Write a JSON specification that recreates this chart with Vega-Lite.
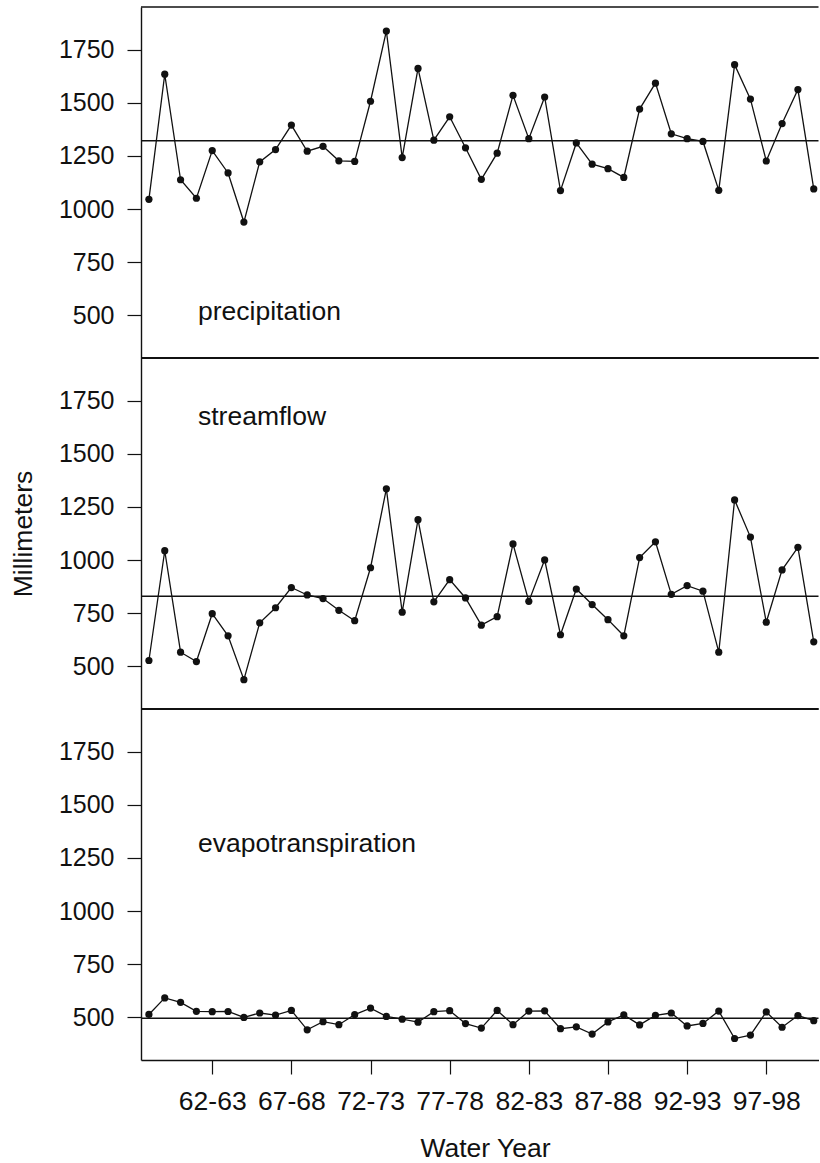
{
  "$schema": "https://vega.github.io/schema/vega-lite/v6.json",
  "background": "white",
  "padding": {"left": 10, "top": 6, "right": 0, "bottom": 0},
  "bounds": "flush",
  "spacing": 0,
  "config": {
    "font": "Liberation Sans",
    "view": {"stroke": null},
    "axis": {
      "grid": false,
      "domainColor": "#111111",
      "domainWidth": 1.4,
      "tickColor": "#111111",
      "tickWidth": 1.2,
      "tickSize": 14,
      "labelColor": "#111111",
      "titleColor": "#111111",
      "labelFont": "Liberation Sans",
      "titleFont": "Liberation Sans",
      "titleFontWeight": "normal"
    },
    "axisY": {"labelFontSize": 25, "labelPadding": 13, "titleFontSize": 26.5, "titlePadding": 21},
    "axisX": {"labelFontSize": 26.5, "labelPadding": 14, "titleFontSize": 26.5, "titlePadding": 21, "domainWidth": 1.6}
  },
  "datasets": {
    "wy": [
      {"water_year": "58-59", "start": 1958, "precipitation": 1046, "streamflow": 528, "evapotranspiration": 514},
      {"water_year": "59-60", "start": 1959, "precipitation": 1634, "streamflow": 1044, "evapotranspiration": 592},
      {"water_year": "60-61", "start": 1960, "precipitation": 1138, "streamflow": 567, "evapotranspiration": 571},
      {"water_year": "61-62", "start": 1961, "precipitation": 1051, "streamflow": 523, "evapotranspiration": 529},
      {"water_year": "62-63", "start": 1962, "precipitation": 1275, "streamflow": 748, "evapotranspiration": 527},
      {"water_year": "63-64", "start": 1963, "precipitation": 1170, "streamflow": 644, "evapotranspiration": 528},
      {"water_year": "64-65", "start": 1964, "precipitation": 939, "streamflow": 438, "evapotranspiration": 500},
      {"water_year": "65-66", "start": 1965, "precipitation": 1222, "streamflow": 705, "evapotranspiration": 521},
      {"water_year": "66-67", "start": 1966, "precipitation": 1280, "streamflow": 776, "evapotranspiration": 511},
      {"water_year": "67-68", "start": 1967, "precipitation": 1395, "streamflow": 871, "evapotranspiration": 533},
      {"water_year": "68-69", "start": 1968, "precipitation": 1272, "streamflow": 836, "evapotranspiration": 442},
      {"water_year": "69-70", "start": 1969, "precipitation": 1295, "streamflow": 819, "evapotranspiration": 480},
      {"water_year": "70-71", "start": 1970, "precipitation": 1227, "streamflow": 764, "evapotranspiration": 466},
      {"water_year": "71-72", "start": 1971, "precipitation": 1224, "streamflow": 715, "evapotranspiration": 513},
      {"water_year": "72-73", "start": 1972, "precipitation": 1507, "streamflow": 964, "evapotranspiration": 544},
      {"water_year": "73-74", "start": 1973, "precipitation": 1837, "streamflow": 1335, "evapotranspiration": 505},
      {"water_year": "74-75", "start": 1974, "precipitation": 1242, "streamflow": 755, "evapotranspiration": 492},
      {"water_year": "75-76", "start": 1975, "precipitation": 1661, "streamflow": 1190, "evapotranspiration": 478},
      {"water_year": "76-77", "start": 1976, "precipitation": 1324, "streamflow": 804, "evapotranspiration": 527},
      {"water_year": "77-78", "start": 1977, "precipitation": 1434, "streamflow": 908, "evapotranspiration": 532},
      {"water_year": "78-79", "start": 1978, "precipitation": 1288, "streamflow": 822, "evapotranspiration": 471},
      {"water_year": "79-80", "start": 1979, "precipitation": 1140, "streamflow": 694, "evapotranspiration": 450},
      {"water_year": "80-81", "start": 1980, "precipitation": 1263, "streamflow": 734, "evapotranspiration": 533},
      {"water_year": "81-82", "start": 1981, "precipitation": 1535, "streamflow": 1076, "evapotranspiration": 466},
      {"water_year": "82-83", "start": 1982, "precipitation": 1331, "streamflow": 806, "evapotranspiration": 530},
      {"water_year": "83-84", "start": 1983, "precipitation": 1527, "streamflow": 1001, "evapotranspiration": 531},
      {"water_year": "84-85", "start": 1984, "precipitation": 1087, "streamflow": 649, "evapotranspiration": 447},
      {"water_year": "85-86", "start": 1985, "precipitation": 1311, "streamflow": 864, "evapotranspiration": 456},
      {"water_year": "86-87", "start": 1986, "precipitation": 1211, "streamflow": 791, "evapotranspiration": 422},
      {"water_year": "87-88", "start": 1987, "precipitation": 1190, "streamflow": 720, "evapotranspiration": 479},
      {"water_year": "88-89", "start": 1988, "precipitation": 1149, "streamflow": 644, "evapotranspiration": 512},
      {"water_year": "89-90", "start": 1989, "precipitation": 1470, "streamflow": 1012, "evapotranspiration": 465},
      {"water_year": "90-91", "start": 1990, "precipitation": 1592, "streamflow": 1086, "evapotranspiration": 510},
      {"water_year": "91-92", "start": 1991, "precipitation": 1354, "streamflow": 839, "evapotranspiration": 521},
      {"water_year": "92-93", "start": 1992, "precipitation": 1331, "streamflow": 880, "evapotranspiration": 460},
      {"water_year": "93-94", "start": 1993, "precipitation": 1318, "streamflow": 854, "evapotranspiration": 472},
      {"water_year": "94-95", "start": 1994, "precipitation": 1088, "streamflow": 567, "evapotranspiration": 530},
      {"water_year": "95-96", "start": 1995, "precipitation": 1679, "streamflow": 1283, "evapotranspiration": 401},
      {"water_year": "96-97", "start": 1996, "precipitation": 1517, "streamflow": 1108, "evapotranspiration": 417},
      {"water_year": "97-98", "start": 1997, "precipitation": 1226, "streamflow": 708, "evapotranspiration": 526},
      {"water_year": "98-99", "start": 1998, "precipitation": 1402, "streamflow": 954, "evapotranspiration": 454},
      {"water_year": "99-00", "start": 1999, "precipitation": 1562, "streamflow": 1060, "evapotranspiration": 509},
      {"water_year": "00-01", "start": 2000, "precipitation": 1095, "streamflow": 616, "evapotranspiration": 485}
    ]
  },
  "vconcat": [
    {
      "width": 677.5,
      "height": 351,
      "data": {"name": "wy"},
      "layer": [
        {
          "data": {"values": [{"edge": "top"}]},
          "mark": {"type": "rule", "color": "#111111", "strokeWidth": 1.3},
          "encoding": {"y": {"datum": 1950, "type": "quantitative", "scale": {"domain": [300, 1950], "nice": false, "zero": false}, "axis": {"values": [500, 750, 1000, 1250, 1500, 1750], "format": "d", "title": null}}}
        },
        {
          "data": {"values": [{"edge": "bottom"}]},
          "mark": {"type": "rule", "color": "#111111", "strokeWidth": 1.8},
          "encoding": {"y": {"datum": 300, "type": "quantitative", "scale": {"domain": [300, 1950], "nice": false, "zero": false}, "axis": {"values": [500, 750, 1000, 1250, 1500, 1750], "format": "d", "title": null}}}
        },
        {
          "mark": {"type": "rule", "color": "#111111", "strokeWidth": 1.5},
          "encoding": {"y": {"aggregate": "mean", "field": "precipitation", "type": "quantitative", "scale": {"domain": [300, 1950], "nice": false, "zero": false}, "axis": {"values": [500, 750, 1000, 1250, 1500, 1750], "format": "d", "title": null}}}
        },
        {
          "mark": {"type": "line", "color": "#111111", "strokeWidth": 1.3, "point": {"filled": true, "size": 52, "color": "#111111", "opacity": 1}},
          "encoding": {
            "x": {"field": "start", "type": "quantitative", "scale": {"domain": [1957.5, 2000.3], "nice": false, "zero": false}, "axis": null},
            "y": {
              "field": "precipitation", "type": "quantitative",
              "scale": {"domain": [300, 1950], "nice": false, "zero": false},
              "axis": {"values": [500, 750, 1000, 1250, 1500, 1750], "format": "d", "title": null}
            }
          }
        },
        {
          "data": {"values": [{"name": "precipitation"}]},
          "mark": {"type": "text", "align": "left", "baseline": "alphabetic", "fontSize": 26.5, "color": "#111111"},
          "encoding": {
            "x": {"datum": 1961.1, "type": "quantitative", "axis": null},
            "y": {"datum": 479, "type": "quantitative", "axis": {"values": [500, 750, 1000, 1250, 1500, 1750], "format": "d", "title": null}},
            "text": {"field": "name"}
          }
        }
      ]
    },
    {
      "width": 677.5,
      "height": 351,
      "data": {"name": "wy"},
      "layer": [
        {
          "data": {"values": [{"edge": "top"}]},
          "mark": {"type": "rule", "color": "#111111", "strokeWidth": 1.8},
          "encoding": {"y": {"datum": 1950, "type": "quantitative", "scale": {"domain": [300, 1950], "nice": false, "zero": false}, "axis": {"values": [500, 750, 1000, 1250, 1500, 1750], "format": "d", "title": "Millimeters"}}}
        },
        {
          "data": {"values": [{"edge": "bottom"}]},
          "mark": {"type": "rule", "color": "#111111", "strokeWidth": 1.8},
          "encoding": {"y": {"datum": 300, "type": "quantitative", "scale": {"domain": [300, 1950], "nice": false, "zero": false}, "axis": {"values": [500, 750, 1000, 1250, 1500, 1750], "format": "d", "title": "Millimeters"}}}
        },
        {
          "mark": {"type": "rule", "color": "#111111", "strokeWidth": 1.5},
          "encoding": {"y": {"aggregate": "mean", "field": "streamflow", "type": "quantitative", "scale": {"domain": [300, 1950], "nice": false, "zero": false}, "axis": {"values": [500, 750, 1000, 1250, 1500, 1750], "format": "d", "title": "Millimeters"}}}
        },
        {
          "mark": {"type": "line", "color": "#111111", "strokeWidth": 1.3, "point": {"filled": true, "size": 52, "color": "#111111", "opacity": 1}},
          "encoding": {
            "x": {"field": "start", "type": "quantitative", "scale": {"domain": [1957.5, 2000.3], "nice": false, "zero": false}, "axis": null},
            "y": {
              "field": "streamflow", "type": "quantitative",
              "scale": {"domain": [300, 1950], "nice": false, "zero": false},
              "axis": {"values": [500, 750, 1000, 1250, 1500, 1750], "format": "d", "title": "Millimeters"}
            }
          }
        },
        {
          "data": {"values": [{"name": "streamflow"}]},
          "mark": {"type": "text", "align": "left", "baseline": "alphabetic", "fontSize": 26.5, "color": "#111111"},
          "encoding": {
            "x": {"datum": 1961.1, "type": "quantitative", "axis": null},
            "y": {"datum": 1635, "type": "quantitative", "axis": {"values": [500, 750, 1000, 1250, 1500, 1750], "format": "d", "title": "Millimeters"}},
            "text": {"field": "name"}
          }
        }
      ]
    },
    {
      "width": 677.5,
      "height": 351,
      "data": {"name": "wy"},
      "layer": [
        {
          "data": {"values": [{"edge": "top"}]},
          "mark": {"type": "rule", "color": "#111111", "strokeWidth": 1.8},
          "encoding": {"y": {"datum": 1950, "type": "quantitative", "scale": {"domain": [300, 1950], "nice": false, "zero": false}, "axis": {"values": [500, 750, 1000, 1250, 1500, 1750], "format": "d", "title": null}}}
        },
        {
          "mark": {"type": "rule", "color": "#111111", "strokeWidth": 1.5},
          "encoding": {"y": {"aggregate": "mean", "field": "evapotranspiration", "type": "quantitative", "scale": {"domain": [300, 1950], "nice": false, "zero": false}, "axis": {"values": [500, 750, 1000, 1250, 1500, 1750], "format": "d", "title": null}}}
        },
        {
          "mark": {"type": "line", "color": "#111111", "strokeWidth": 1.3, "point": {"filled": true, "size": 52, "color": "#111111", "opacity": 1}},
          "encoding": {
            "x": {
              "field": "start", "type": "quantitative",
              "scale": {"domain": [1957.5, 2000.3], "nice": false, "zero": false},
              "axis": {
                "values": [1962, 1967, 1972, 1977, 1982, 1987, 1992, 1997],
                "labelExpr": "slice(format(datum.value, 'd'), 2) + '-' + slice(format(datum.value + 1, 'd'), 2)",
                "title": "Water Year",
                "titleX": 344
              }
            },
            "y": {
              "field": "evapotranspiration", "type": "quantitative",
              "scale": {"domain": [300, 1950], "nice": false, "zero": false},
              "axis": {"values": [500, 750, 1000, 1250, 1500, 1750], "format": "d", "title": null}
            }
          }
        },
        {
          "data": {"values": [{"name": "evapotranspiration"}]},
          "mark": {"type": "text", "align": "left", "baseline": "alphabetic", "fontSize": 26.5, "color": "#111111"},
          "encoding": {
            "x": {"datum": 1961.1, "type": "quantitative"},
            "y": {"datum": 1280, "type": "quantitative", "axis": {"values": [500, 750, 1000, 1250, 1500, 1750], "format": "d", "title": null}},
            "text": {"field": "name"}
          }
        }
      ]
    }
  ]
}
